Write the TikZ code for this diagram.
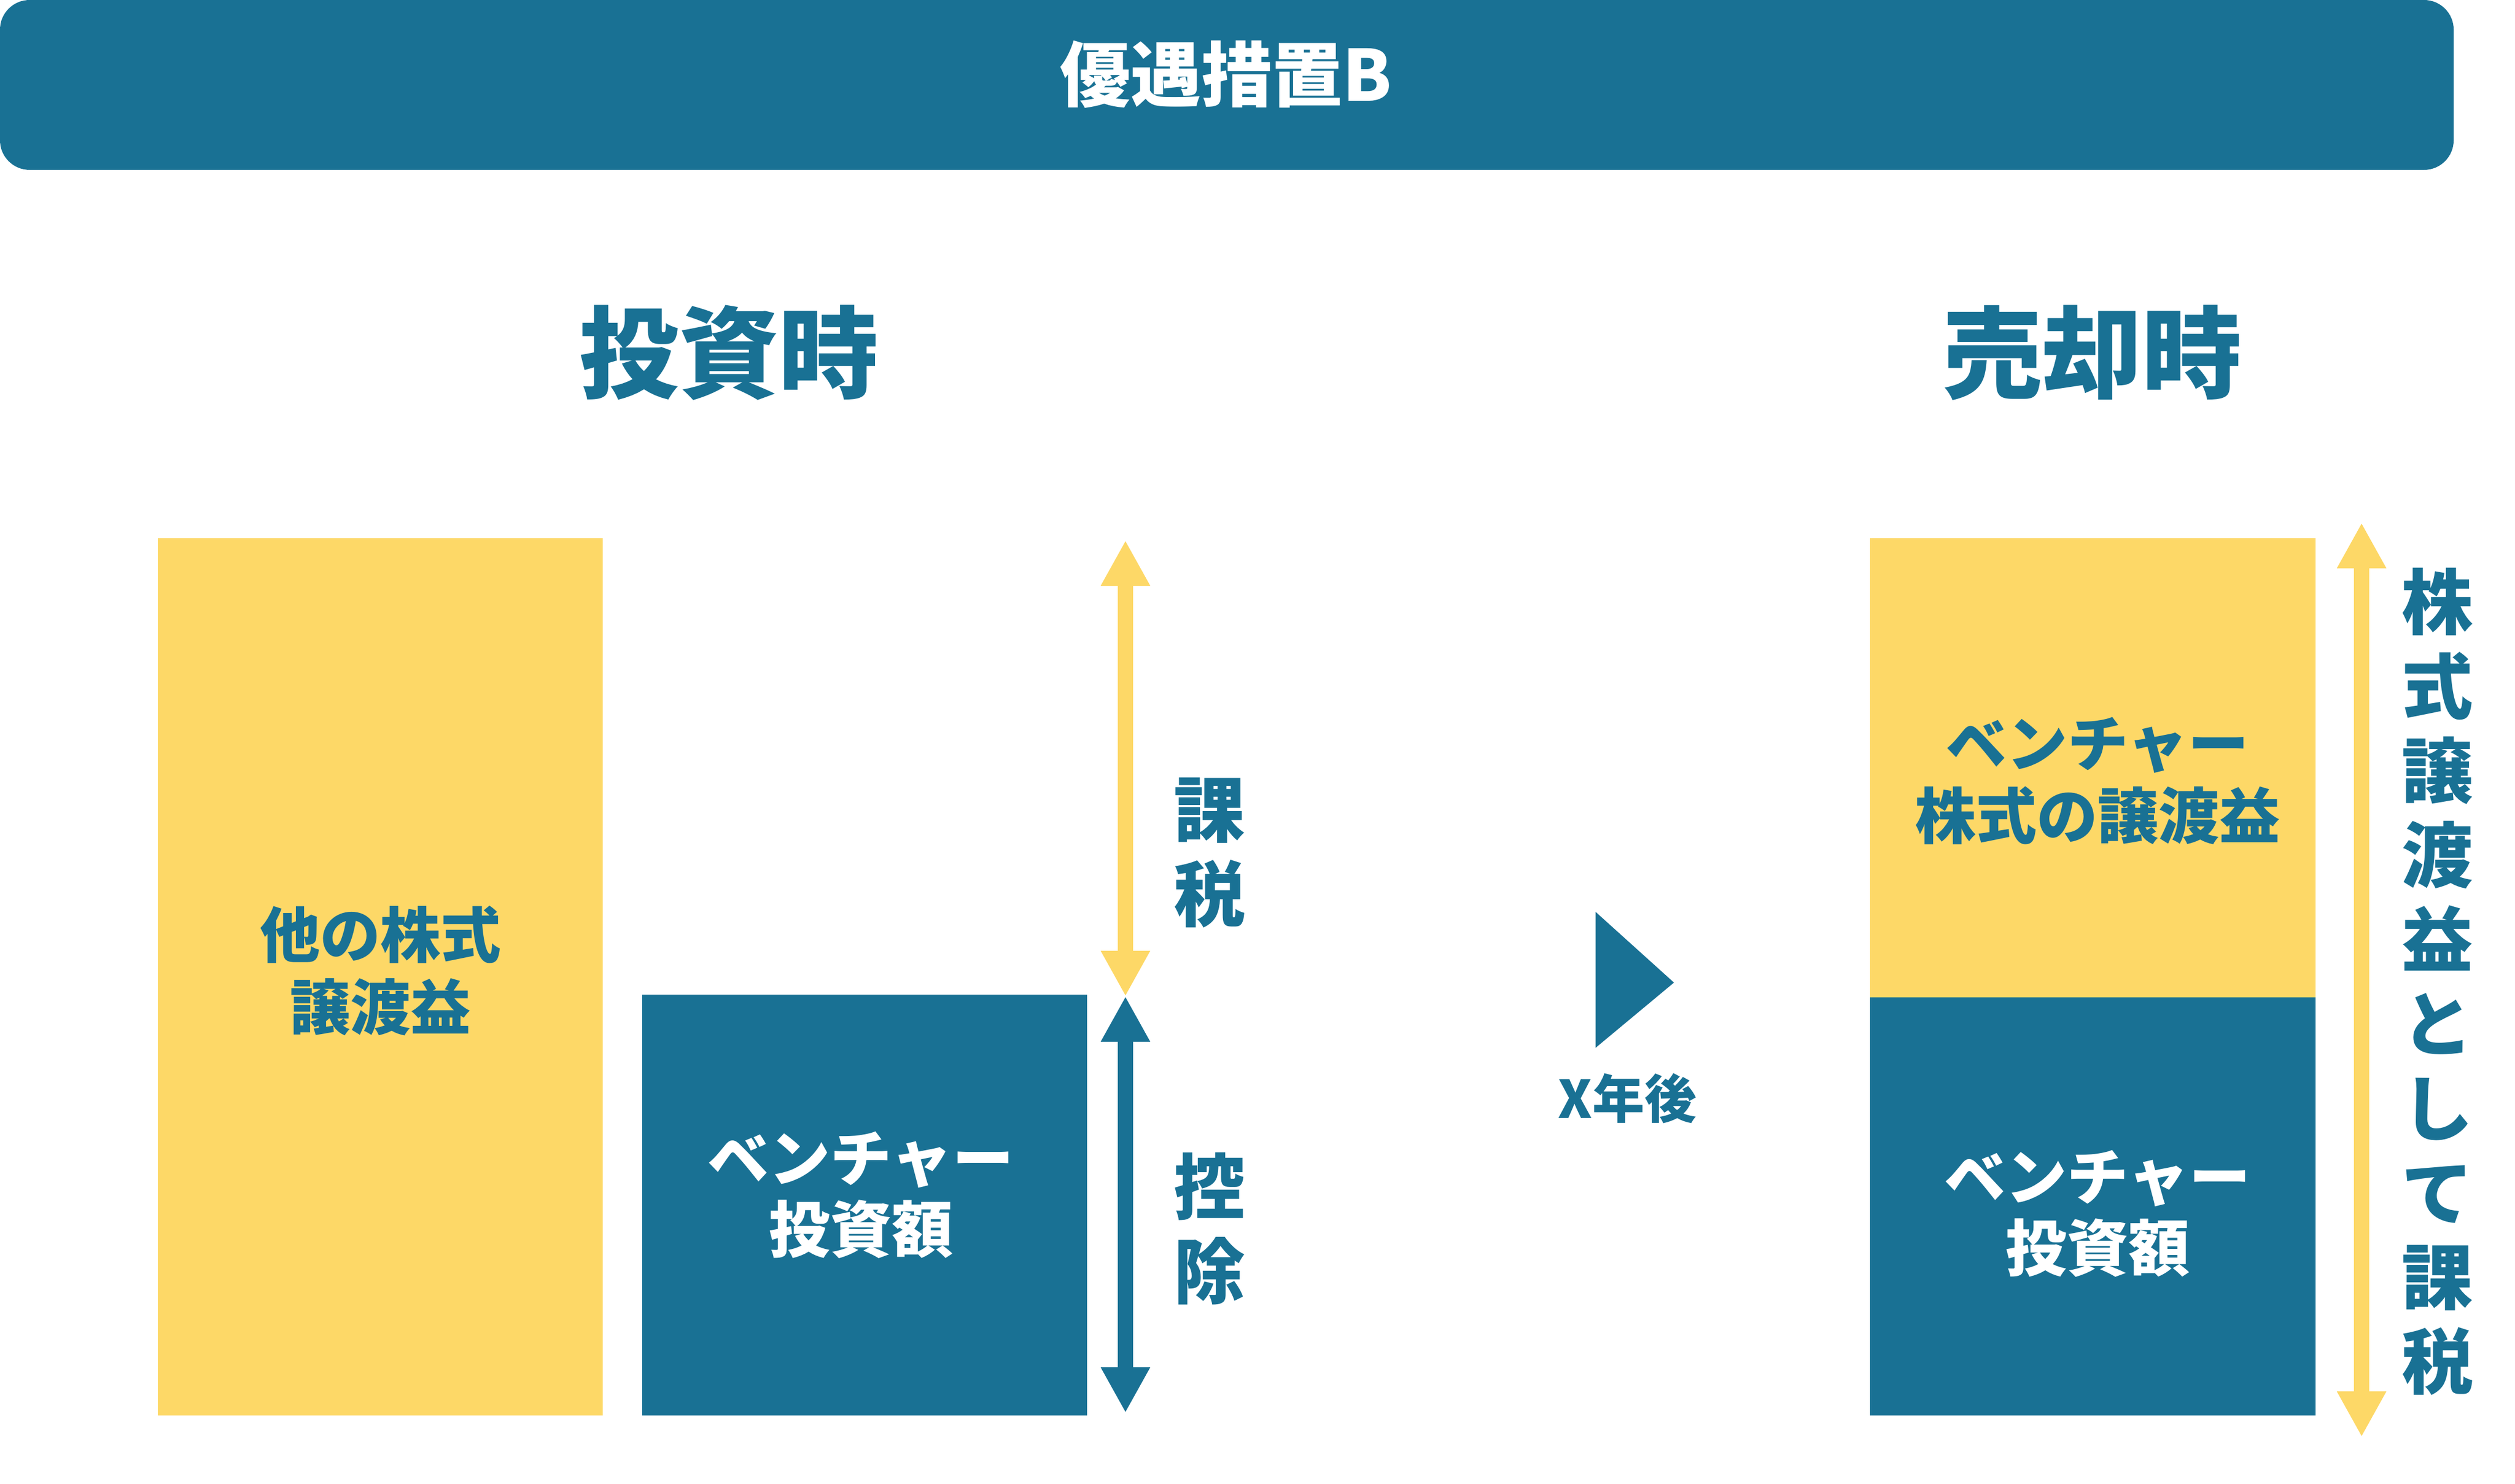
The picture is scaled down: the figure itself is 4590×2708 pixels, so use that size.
\documentclass[tikz,border=0pt]{standalone}
\usepackage{fontspec}
\setmainfont{Noto Sans CJK JP}
\usetikzlibrary{arrows.meta,positioning,calc}
\definecolor{vblue}{RGB}{25,113,148}
\definecolor{vyellow}{RGB}{253,216,103}
\tikzset{
  bar/.style={fill=#1, draw=none, inner sep=0pt, outer sep=0pt, anchor=north west},
  lbl/.style={inner sep=0pt, outer sep=0pt, align=center, text=vblue},
  boxtext/.style={lbl, font=\bfseries\fontsize{112}{130}\selectfont},
  sidetext/.style={lbl, font=\bfseries\fontsize{130}{154}\selectfont},
  headtext/.style={lbl, font=\bfseries\fontsize{182}{200}\selectfont},
  bigarrow/.style={line width=28pt, draw=#1,
    {Triangle[width=84pt,length=83pt]}-{Triangle[width=84pt,length=83pt]}},
}

\begin{document}
\begin{tikzpicture}[x=1pt,y=-1pt]
                    \useasboundingbox (0,0) rectangle (4590,2708);

                    % banner
                    \node (banner) [bar=vblue, rounded corners=54pt,
                      minimum width=4478pt, minimum height=310pt] at (0,0) {};
                    \node (title) [lbl, text=white,
                      font=\bfseries\fontsize{129}{150}\selectfont] at (2237,136) {優遇措置B};

                    \node (invest) [headtext] at (1330,644) {投資時};
                    \node (sale) [headtext] at (3818,644) {売却時};

                    % investment time
                    \node (other) [bar=vyellow, minimum width=812pt, minimum height=1601pt] at (288,982) {};
                    \node (venture) [bar=vblue, minimum width=812pt, minimum height=768pt] at (1172,1815) {};
                    \node at (694,1771) [lbl, font=\bfseries\fontsize{110}{132}\selectfont]
                    {他の株式\\譲渡益};
                    \node at (1571,2181) [boxtext, text=white] {ベンチャー\\投資額};

                    \coordinate (T1) at (2054,986);
                    \coordinate (T2) at (2054,1818);
                    \coordinate (T3) at (2054,2578);
                    \draw [bigarrow=vyellow] (T1) -- (T2);
                    \draw [bigarrow=vblue] (T2) -- (T3);
                    \node (tax) at (2207,1556) [sidetext] {課\\税};
                    \node (deduct) at (2207,2242) [sidetext] {控\\除};

                    % after X years
                    \fill [vblue] (2912,1664) -- (3055,1793) -- (2912,1912) -- cycle;
                    \node (later) at (2970,2004) [lbl, font=\bfseries\fontsize{95}{110}\selectfont] {X年後};

                    % sale time
                    \node (gain) [bar=vyellow, minimum width=813pt, minimum height=838pt] at (3413,982) {};
                    \node (base) [bar=vblue, minimum width=813pt, minimum height=763pt] at (3413,1820) {};
                    \node at (3828,1425) [boxtext, font=\bfseries\fontsize{111}{132}\selectfont]
                    {ベンチャー\\株式の譲渡益};
                    \node at (3828,2215) [boxtext, text=white] {ベンチャー\\投資額};

                    \coordinate (S1) at (4310,954);
                    \coordinate (S2) at (4310,2622);
                    \draw [bigarrow=vyellow] (S1) -- (S2);
                    \node (whole) at (4448,1791) [sidetext]
                    {株\\式\\譲\\渡\\益\\と\\し\\て\\課\\税};
                \end{tikzpicture}
\end{document}
